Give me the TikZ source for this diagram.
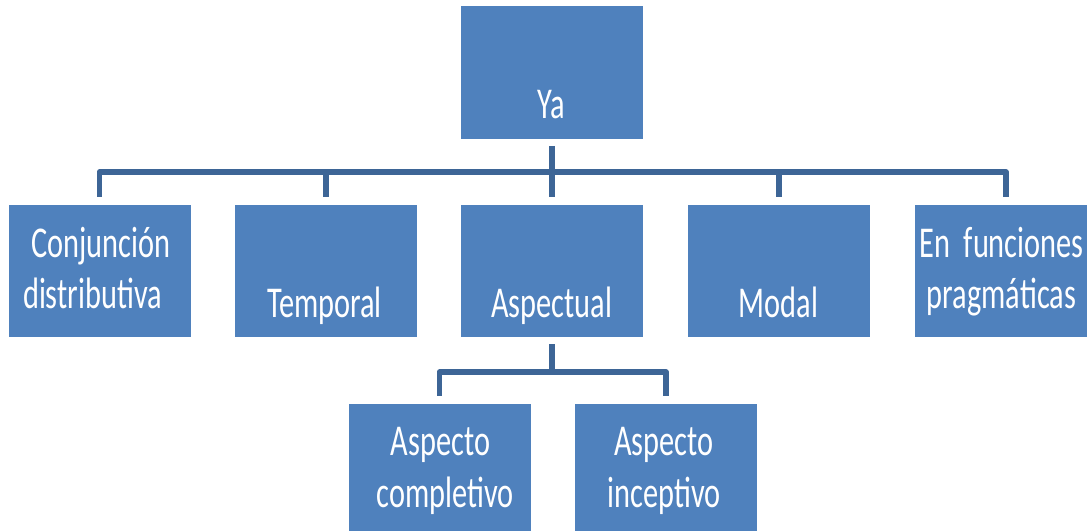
\documentclass[tikz,border=0pt]{standalone}
\usepackage{fontspec}
\setmainfont{Carlito}[FakeStretch=0.69]
\definecolor{boxblue}{HTML}{4F81BD}
\definecolor{linkblue}{HTML}{3D6596}
\begin{document}
\begin{tikzpicture}[x=0.75pt,y=-0.75pt,
  box/.style={rectangle,fill=boxblue,draw=none,inner sep=0pt,outer sep=0pt,
              minimum width=136.5pt,minimum height=99pt},
  txt/.style={text=white,inner sep=0pt,anchor=base,font=\fontsize{33}{38}\selectfont},
  conn/.style={draw=linkblue,line width=4.2pt,line join=round,shorten >=6pt}]
\useasboundingbox (0,0) rectangle (1087,531);
\clip (0,0) rectangle (1087,531);
% boxes
\node[box,minimum height=99.75pt] (ya) at (552,72.5) {};
\node[box] (c1) at (99.5,271) {};
\node[box] (c2) at (326,271) {};
\node[box] (c3) at (552,271) {};
\node[box] (c4) at (779,271) {};
\node[box] (c5) at (1006,271) {};
\node[box] (b1) at (439.5,470) {};
\node[box] (b2) at (666,470) {};
% connectors
\coordinate (bar) at (552,172);
\coordinate (bar2) at (552,372);
\draw[conn,shorten <=5.25pt] (ya.south) -- (c3.north);
\draw[conn] (bar) -| (c1.north);
\draw[conn] (bar) -| (c2.north);
\draw[conn] (bar) -| (c4.north);
\draw[conn] (bar) -| (c5.north);
\draw[conn,shorten >=0pt,shorten <=5.25pt] (c3.south) -- (bar2);
\draw[conn] (bar2) -| (b1.north);
\draw[conn] (bar2) -| (b2.north);
% texts
\node[txt] (tya) at (551.5,118) {Ya};
\node[txt] (tc1a) at (101,257) {Conjunción};
\node[txt] (tc1b) at (92.5,308) {distributiva};
\node[txt] (tc2) at (324.5,317) {Temporal};
\node[txt] (tc3) at (551.5,317) {Aspectual};
\node[txt] (tc4) at (778.5,317) {Modal};
\node[txt,anchor=base west] (tc5a) at (919,257) {En\ \ funciones};
\node[txt] (tc5b) at (1001.5,308) {pragmáticas};
\node[txt] (tb1a) at (440.5,455) {Aspecto};
\node[txt] (tb1b) at (445,507) {completivo};
\node[txt] (tb2a) at (664,455) {Aspecto};
\node[txt] (tb2b) at (664,507) {inceptivo};
\end{tikzpicture}
\end{document}
